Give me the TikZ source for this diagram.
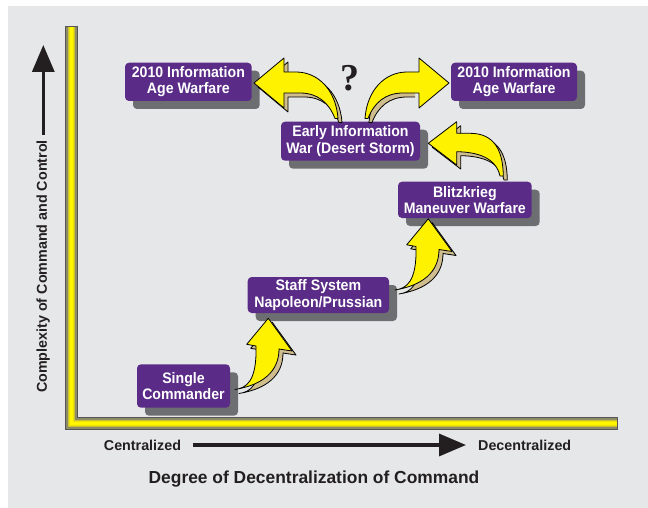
\documentclass[tikz,border=0pt]{standalone}
\usepackage{fontspec}
\setmainfont{Liberation Sans}
\newfontfamily\qfont{Liberation Serif}
\newfontfamily\boxfont[FakeStretch=0.93]{Liberation Sans}
\usetikzlibrary{shadows,arrows.meta,calc}
\definecolor{bggrey}{HTML}{E6E7E8}
\definecolor{boxpurple}{HTML}{5A2B87}
\definecolor{boxshadow}{HTML}{6D6E71}
\definecolor{arrowyellow}{HTML}{FFF200}
\definecolor{tanface}{HTML}{CFBD8E}
\definecolor{inkdark}{HTML}{231F20}
\definecolor{barA}{HTML}{555553}
\definecolor{barB}{HTML}{8D8B67}
\definecolor{barC}{HTML}{C9C136}
\definecolor{barD}{HTML}{EEE300}
\definecolor{barE}{HTML}{FFF600}
\newcommand{\arrowshapeA}[1]{\draw[#1] (0,0) .. controls (27,-4.5) and (44,-17.5) .. (44,-40.5) -- (57,-38.5) -- (33.3,-71.2) -- (11.7,-45.2) -- (21,-43.5) .. controls (22,-7.5) and (11,-1.5) .. (0,0) -- cycle;}
\newcommand{\arrowshapeC}[1]{\draw[#1] (0,0) .. controls (-0.3,-26) and (-9.3,-42.7) .. (-33.3,-42.7) -- (-46.6,-42.7) -- (-46.6,-54.3) -- (-75,-32.7) -- (-46.6,-11) -- (-46.6,-24.3) .. controls (-25.3,-24) and (-7.3,-18) .. (-3.3,0) -- cycle;}
\newcommand{\arrowshapeD}[1]{\draw[#1] (0,0) .. controls (-2,-28.5) and (-20,-46.5) .. (-42,-46.5) -- (-54,-46.5) -- (-54,-60.5) -- (-84,-35.5) -- (-54,-10.5) -- (-54,-25.5) -- (-38,-25.5) .. controls (-20,-25.5) and (-9,-15.5) .. (-3,0) -- cycle;}
\begin{document}
\begin{tikzpicture}[x=1pt,y=-1pt,
  box/.style={rectangle, rounded corners=4pt, fill=boxpurple, text=white,
    font=\boxfont\bfseries\fontsize{15.2}{16.5}\selectfont, align=center, inner sep=0pt,
    drop shadow={shadow xshift=8pt, shadow yshift=-8pt, fill=boxshadow, opacity=1}},
  axislabel/.style={text=inkdark, font=\bfseries\fontsize{14.3}{16}\selectfont, inner sep=0pt},
  axisarrow/.style={draw=inkdark, line width=3.3pt, -{Triangle[length=27pt,width=22pt]}},
  barlayer/.style={line join=miter, shorten <=1.3pt, shorten >=1.3pt},
  yellowside/.style={fill=arrowyellow, draw=black, line width=0.8pt, line join=round},
  tanside/.style={fill=tanface, draw=black, line width=0.8pt, line join=round}]
\useasboundingbox (0,0) rectangle (648,508);
\fill[bggrey] (8,6) rectangle (648,508);
% yellow L-shaped axis bar
\draw[line width=13pt, barA, line join=miter] (71.5,26) -- (71.5,423.5) -- (618.3,423.5);
\draw[line width=10.4pt, barB, barlayer] (71.5,26) -- (71.5,423.5) -- (618.3,423.5);
\draw[line width=7.8pt, barC, barlayer] (71.5,26) -- (71.5,423.5) -- (618.3,423.5);
\draw[line width=5pt, barD, barlayer] (71.5,26) -- (71.5,423.5) -- (618.3,423.5);
\draw[line width=2.2pt, barE, barlayer] (71.5,26) -- (71.5,423.5) -- (618.3,423.5);
% boxes
\node[box, minimum width=126.7pt, minimum height=38.3pt] (infoL) at (188.35,81.85) {2010 Information\\Age Warfare};
\node[box, minimum width=126pt, minimum height=38.3pt] (infoR) at (514,81.85) {2010 Information\\Age Warfare};
\node[box, minimum width=139pt, minimum height=39pt] (early) at (350.5,141.2) {Early Information\\War (Desert Storm)};
\node[box, minimum width=133.7pt, minimum height=36.3pt] (blitz) at (464.85,199.85) {Blitzkrieg\\Maneuver Warfare};
\node[box, minimum width=141.3pt, minimum height=36pt] (staff) at (318.35,295) {Staff System\\Napoleon/Prussian};
\node[box, minimum width=93pt, minimum height=43.4pt] (single) at (183.5,386) {Single\\Commander};
% question mark
\node[text=inkdark, font=\qfont\bfseries\fontsize{38}{40}\selectfont, inner sep=0pt] (qmark) at (350,78.3) {?};
% tails of the curved block arrows
\coordinate (tA) at (235,389.5);
\coordinate (tB) at (395,290);
\coordinate (tC) at (503.3,176);
\coordinate (tD) at (338,118.5);
\coordinate (tE) at (365,118.5);
\begin{scope}[shift={(tA)}]
  \arrowshapeA{tanside, shift={(4,4)}}
  \arrowshapeA{yellowside}
\end{scope}
\begin{scope}[shift={(tB)}]
  \arrowshapeA{tanside, shift={(4,4)}}
  \arrowshapeA{yellowside}
\end{scope}
\begin{scope}[shift={(tC)}]
  \arrowshapeC{tanside, shift={(4,4)}}
  \arrowshapeC{yellowside}
\end{scope}
\begin{scope}[shift={(tD)}]
  \arrowshapeD{tanside, shift={(4,4)}}
  \arrowshapeD{yellowside}
\end{scope}
\begin{scope}[shift={(tE)}, xscale=-1]
  \begin{scope}
    \clip (-50,-80) rectangle (20,20);
    \arrowshapeD{tanside, shift={(-4,4)}}
  \end{scope}
  \arrowshapeD{yellowside}
\end{scope}
% axes labels
\node[axislabel, rotate=90] (ylab) at (43.3,266.5) {Complexity of Command and Control};
\coordinate (ytop) at (43.3,45);
\draw[axisarrow] ($(ylab.east)+(0,-5)$) -- (ytop);
\node[axislabel] (cen) at (142.5,445) {Centralized};
\node[axislabel] (dec) at (524.7,445) {Decentralized};
\draw[axisarrow] ($(cen.east)+(12,0)$) -- ($(dec.west)+(-12,0)$);
\node[text=inkdark, font=\bfseries\fontsize{17.4}{20}\selectfont, inner sep=0pt] (xtitle) at (314,479) {Degree of Decentralization of Command};
\end{tikzpicture}
\end{document}
